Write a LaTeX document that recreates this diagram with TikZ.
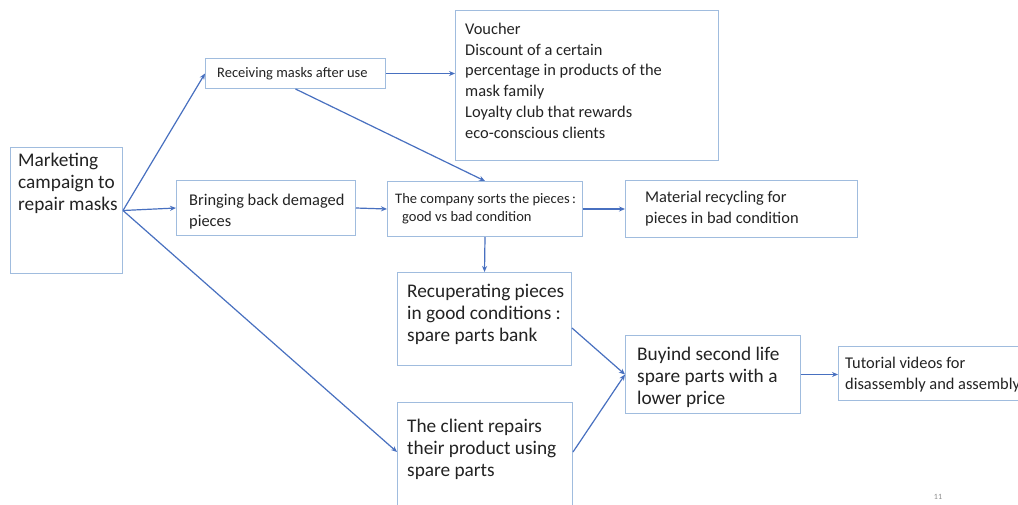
\documentclass[tikz,border=0pt]{standalone}
\usepackage{fontspec}
\setmainfont{Carlito}
\usetikzlibrary{arrows.meta,calc}
\definecolor{boxc}{RGB}{160,188,222}
\definecolor{arrc}{RGB}{72,112,192}
\definecolor{txtc}{RGB}{35,35,35}
\begin{document}
\begin{tikzpicture}[x=1pt,y=-1pt,
  box/.style={draw=boxc, line width=1pt, rectangle, inner sep=0pt, anchor=north west},
  arr/.style={draw=arrc, line width=1.2pt, -{Stealth[length=6pt,width=5pt]}},
  txt/.style={anchor=base west, inner sep=0pt, align=left, text=txtc},
  big/.style={txt, font=\fontsize{19.3}{22}\selectfont},
  mid/.style={txt, font=\fontsize{16.4}{20.7}\selectfont},
  small/.style={txt, font=\fontsize{14.5}{17.5}\selectfont}]
\clip (0,0) rectangle (1018,504);
\fill[white] (0,0) rectangle (1018,504);
% boxes
\node[box, minimum width=112pt, minimum height=126pt] (mk) at (10,147) {};
\node[box, minimum width=180pt, minimum height=30pt] (rc) at (205,58) {};
\node[box, minimum width=263pt, minimum height=150pt] (vo) at (455,10) {};
\node[box, minimum width=179pt, minimum height=55pt] (br) at (176,180) {};
\node[box, minimum width=195pt, minimum height=55pt] (co) at (387,181) {};
\node[box, minimum width=232pt, minimum height=57pt] (ma) at (625,180) {};
\node[box, minimum width=174pt, minimum height=93pt] (re) at (397,272) {};
\node[box, minimum width=175pt, minimum height=110pt] (cl) at (397,402) {};
\node[box, minimum width=175pt, minimum height=78pt] (bu) at (625,335) {};
\node[box, minimum width=190pt, minimum height=54pt] (tu) at (838,346) {};
% texts (anchored at the baseline of their last line)
\node[big] (mkT) at (18,210) {Marketing\\campaign to\\repair masks};
\node[small] (rcT) at (217,77) {Receiving masks after use};
\node[mid] (voT) at (465,138) {Voucher\\Discount of a certain\\percentage in products of the\\mask family\\Loyalty club that rewards\\eco-conscious clients};
\node[mid] (brT) at (189,226) {Bringing back demaged\\pieces};
\node[small] (coT) at (395,221) {The company sorts the pieces\,:\\\hspace*{7pt}good vs bad condition};
\node[mid] (maT) at (645,223) {Material recycling for\\pieces in bad condition};
\node[big] (reT) at (407,341) {Recuperating pieces\\in good conditions :\\spare parts bank};
\node[big] (clT) at (407,476) {The client repairs\\their product using\\spare parts};
\node[big] (buT) at (637,404) {Buyind second life\\spare parts with a\\lower price};
\node[mid] (tuT) at (845,389) {Tutorial videos for\\disassembly and assembly};
\node[anchor=base, inner sep=0pt, text=black!45, font=\fontsize{8}{9}\selectfont] (pg) at (938,499) {11};
% connectors
\coordinate (clIn) at ($(cl.north west)+(0,50)$);
\coordinate (reOut) at ($(re.east)+(0,9)$);
\coordinate (clOut) at ($(cl.north east)+(0,50)$);
\draw[arr] (mk.east) -- (rc.west);
\draw[arr] (mk.east) -- (br.west);
\draw[arr] (mk.east) -- (clIn);
\draw[arr] (rc.east) -- (vo.west |- rc.east);
\draw[arr] (rc.south) -- (co.north);
\draw[arr] (br.east) -- (co.west);
\draw[arr] (co.east) -- (ma.west |- co.east);
\draw[arr] (co.south) -- (re.north);
\draw[arr] (reOut) -- (bu.west);
\draw[arr] (clOut) -- (bu.west);
\draw[arr] (bu.east) -- (tu.west |- bu.east);
\end{tikzpicture}
\end{document}
